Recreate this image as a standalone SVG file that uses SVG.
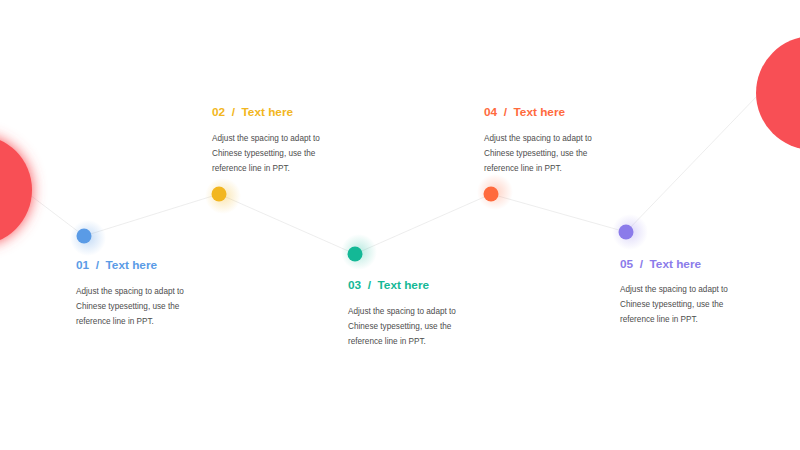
<svg xmlns="http://www.w3.org/2000/svg" width="800" height="450" viewBox="0 0 800 450">
<defs>
<style>
.t{font-family:"Liberation Sans",Arial,sans-serif;font-weight:bold;font-size:11.8px}
.b{font-family:"Liberation Sans",Arial,sans-serif;font-size:8.2px;fill:#4d4d4d}
.ln{stroke:#e8e8e8;stroke-width:0.8;fill:none}
</style>
<filter id="glowBig" x="-50%" y="-50%" width="200%" height="200%">
<feGaussianBlur in="SourceGraphic" stdDeviation="7" result="b"/>
<feMerge><feMergeNode in="b"/><feMergeNode in="SourceGraphic"/></feMerge>
</filter>
<radialGradient id="gBlue"><stop offset="0" stop-color="#5a9be6" stop-opacity="0.35"/><stop offset="1" stop-color="#5a9be6" stop-opacity="0"/></radialGradient>
<radialGradient id="gYel"><stop offset="0" stop-color="#f2b620" stop-opacity="0.35"/><stop offset="1" stop-color="#f2b620" stop-opacity="0"/></radialGradient>
<radialGradient id="gTeal"><stop offset="0" stop-color="#14b896" stop-opacity="0.3"/><stop offset="1" stop-color="#14b896" stop-opacity="0"/></radialGradient>
<radialGradient id="gOr"><stop offset="0" stop-color="#ff6a3d" stop-opacity="0.3"/><stop offset="1" stop-color="#ff6a3d" stop-opacity="0"/></radialGradient>
<radialGradient id="gPur"><stop offset="0" stop-color="#8b7bea" stop-opacity="0.3"/><stop offset="1" stop-color="#8b7bea" stop-opacity="0"/></radialGradient>
</defs>
<rect width="800" height="450" fill="#fff"/>
<g id="connectors">
<path class="ln" d="M30,195 L84,236 L219,194 L355,254 L491,194 L626,232 L758,95"/>
</g>
<g id="circle-left"><circle cx="-23" cy="190" r="55" fill="#f84f55" filter="url(#glowBig)"/></g>
<g id="circle-right"><circle cx="813" cy="93" r="57" fill="#f84f55"/></g>
<g id="node1">
<circle cx="88" cy="238" r="18" fill="url(#gBlue)"/>
<circle cx="84" cy="236" r="7.5" fill="#5a9be6"/>
<text class="t" x="76" y="269" fill="#5a9be6" xml:space="preserve">01  /  Text here</text>
<text class="b" x="76" y="294">Adjust the spacing to adapt to</text>
<text class="b" x="76" y="309">Chinese typesetting, use the</text>
<text class="b" x="76" y="324">reference line in PPT.</text>
</g>
<g id="node2">
<circle cx="223" cy="196" r="18" fill="url(#gYel)"/>
<circle cx="219" cy="194" r="7.5" fill="#f2b620"/>
<text class="t" x="212" y="116" fill="#f2b620" xml:space="preserve">02  /  Text here</text>
<text class="b" x="212" y="141">Adjust the spacing to adapt to</text>
<text class="b" x="212" y="156">Chinese typesetting, use the</text>
<text class="b" x="212" y="171">reference line in PPT.</text>
</g>
<g id="node3">
<circle cx="359" cy="252" r="18" fill="url(#gTeal)"/>
<circle cx="355" cy="254" r="7.5" fill="#14b896"/>
<text class="t" x="348" y="289" fill="#14b896" xml:space="preserve">03  /  Text here</text>
<text class="b" x="348" y="314">Adjust the spacing to adapt to</text>
<text class="b" x="348" y="329">Chinese typesetting, use the</text>
<text class="b" x="348" y="344">reference line in PPT.</text>
</g>
<g id="node4">
<circle cx="495" cy="192" r="18" fill="url(#gOr)"/>
<circle cx="491" cy="194" r="7.5" fill="#ff6a3d"/>
<text class="t" x="484" y="116" fill="#ff6a3d" xml:space="preserve">04  /  Text here</text>
<text class="b" x="484" y="141">Adjust the spacing to adapt to</text>
<text class="b" x="484" y="156">Chinese typesetting, use the</text>
<text class="b" x="484" y="171">reference line in PPT.</text>
</g>
<g id="node5">
<circle cx="630" cy="232" r="18" fill="url(#gPur)"/>
<circle cx="626" cy="232" r="7.5" fill="#8b7bea"/>
<text class="t" x="620" y="268" fill="#8b7bea" xml:space="preserve">05  /  Text here</text>
<text class="b" x="620" y="292">Adjust the spacing to adapt to</text>
<text class="b" x="620" y="307">Chinese typesetting, use the</text>
<text class="b" x="620" y="322">reference line in PPT.</text>
</g>
</svg>
